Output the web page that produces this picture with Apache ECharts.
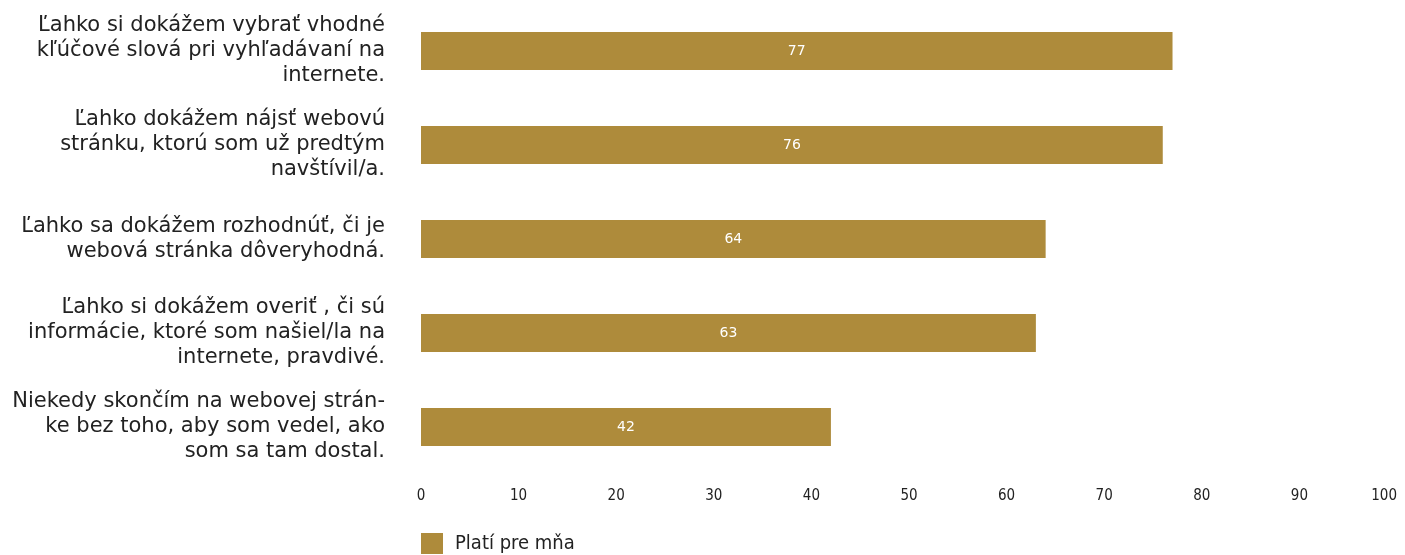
<!DOCTYPE html>
<html>
<head>
<meta charset="utf-8">
<script src="https://cdn.jsdelivr.net/npm/echarts@6/dist/echarts.min.js"></script>
<style>
html,body{margin:0;padding:0;background:#fff;}
#c{width:1405px;height:555px;}
</style>
</head>
<body>
<div id="c"></div>
<script>
const categories = [
  "Ľahko si dokážem vybrať vhodné\nkľúčové slová pri vyhľadávaní na\ninternete.",
  "Ľahko dokážem nájsť webovú\nstránku, ktorú som už predtým\nnavštívil/a.",
  "Ľahko sa dokážem rozhodnúť, či je\nwebová stránka dôveryhodná.",
  "Ľahko si dokážem overiť , či sú\ninformácie, ktoré som našiel/la na\ninternete, pravdivé.",
  "Niekedy skončím na webovej strán-\nke bez toho, aby som vedel, ako\nsom sa tam dostal."
];
const values = [77, 76, 64, 63, 42];
const seriesName = "Platí pre mňa";
const axisMin = 0, axisMax = 100, axisStep = 10;

const chart = echarts.init(document.getElementById('c'));
chart.setOption({
  animation: false,
  backgroundColor: '#ffffff',
  textStyle: { fontFamily: 'DejaVu Sans' },
  grid: { left: 421, top: 4, width: 976, height: 470, containLabel: false },
  legend: {
    data: [seriesName],
    left: 416, top: 528,
    itemWidth: 22, itemHeight: 21, itemGap: 11,
    icon: 'rect',
    textStyle: { fontSize: 20, color: '#222', fontFamily: 'DejaVu Sans Condensed', padding: [0, 0, 0, 7] }
  },
  xAxis: {
    type: 'value', min: axisMin, max: axisMax, interval: axisStep,
    axisLine: { show: false }, axisTick: { show: false },
    splitLine: { show: false },
    axisLabel: { margin: 15, fontSize: 15, color: '#222', fontFamily: 'DejaVu Sans Condensed', alignMaxLabel: 'right' }
  },
  yAxis: {
    type: 'category', data: categories, inverse: true,
    axisLine: { show: false }, axisTick: { show: false },
    axisLabel: { margin: 36, fontSize: 21, lineHeight: 25, color: '#222', align: 'right', fontFamily: 'DejaVu Sans' }
  },
  series: [{
    name: seriesName, type: 'bar', data: values, barWidth: 38,
    itemStyle: { color: '#AE8B3B' },
    label: { show: true, position: 'inside', color: '#ffffff', fontSize: 14, fontFamily: 'DejaVu Sans' }
  }]
});
</script>
</body>
</html>
